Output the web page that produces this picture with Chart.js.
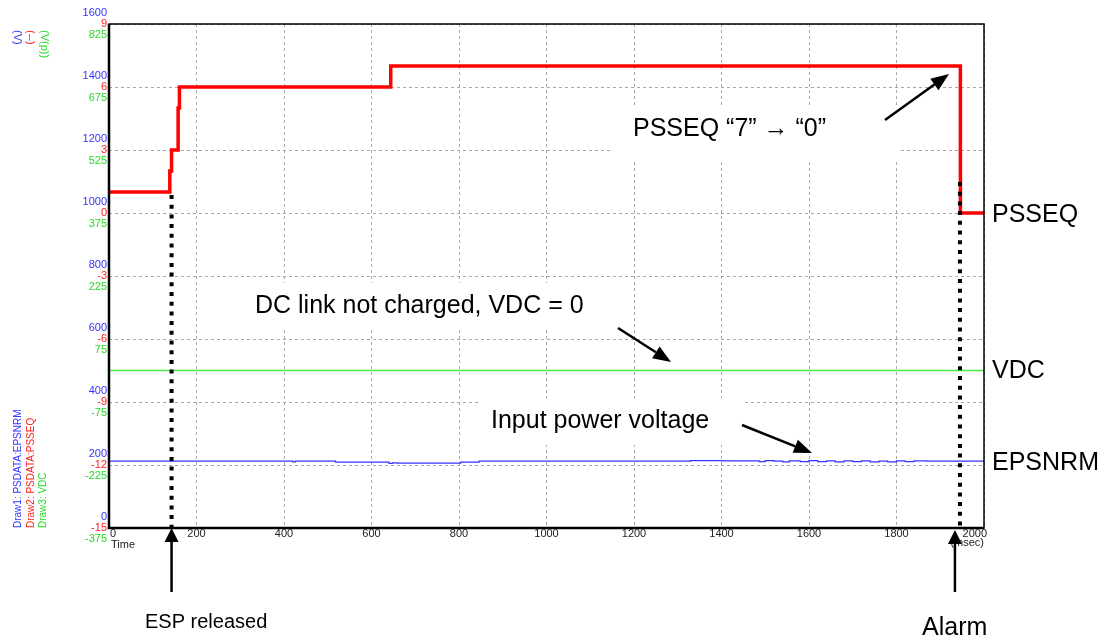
<!DOCTYPE html>
<html>
<head>
<meta charset="utf-8">
<script src="https://cdn.jsdelivr.net/npm/chart.js@4/dist/chart.umd.min.js"></script>
<style>
  html, body { margin: 0; padding: 0; background: #fff; }
  #wrap { width: 1107px; height: 639px; }
</style>
</head>
<body>
<div id="wrap"><canvas id="trace" width="1107" height="639"></canvas></div>
<script>
// Time axis (msec)
const timeTicks = [0, 200, 400, 600, 800, 1000, 1200, 1400, 1600, 1800, 2000];

// Draw1: PSDATA:EPSNRM (V) - input power voltage
const epsTime  = [0, 420, 426, 518, 640, 648, 659, 804, 846, 1329, 1401, 1486, 1500, 1520, 1540, 1555, 1580, 1600, 1620, 1640, 1660, 1680, 1700, 1720, 1740, 1760, 1780, 1800, 1820, 1840, 1867, 2000];
const epsValue = [212, 210, 212, 209, 205, 207, 206, 209, 212, 214, 213, 211, 214, 212, 210, 213, 211, 214, 211, 213, 210, 213, 211, 213, 210, 212, 210, 213, 211, 213, 212, 212];

// Draw2: PSDATA:PSSEQ (--) - power supply sequence
const pssTime  = [0, 139, 143, 158, 161, 644, 1946, 2000];
const pssValue = [1, 2, 3, 5, 6, 7, 0, 0];

// Draw3: VDC (V(p)) - DC link voltage
const vdcTime  = [0, 2000];
const vdcValue = [0, 0];

// Events on the time axis
const espReleased = 143;
const alarmTime = 1945;

const BLUE = '#3333ff', RED = '#ff2020', GREEN = '#22dd22';
const FONT = '"Liberation Sans", Arial, sans-serif';

function points(xs, ys) {
    return xs.map((x, i) => ({ x: x, y: ys[i] }));
}

function arrow(ctx, x1, y1, x2, y2, head, half) {
    const a = Math.atan2(y2 - y1, x2 - x1);
    const bx = x2 - head * Math.cos(a), by = y2 - head * Math.sin(a);
    ctx.beginPath();
    ctx.moveTo(x1, y1);
    ctx.lineTo(bx, by);
    ctx.stroke();
    ctx.beginPath();
    ctx.moveTo(x2, y2);
    ctx.lineTo(bx + half * Math.sin(a), by - half * Math.cos(a));
    ctx.lineTo(bx - half * Math.sin(a), by + half * Math.cos(a));
    ctx.closePath();
    ctx.fill();
}

// White label boxes sit over the grid but under the traces
const labelBoxes = {
    id: 'labelBoxes',
    beforeDatasetsDraw(chart) {
        const ctx = chart.ctx;
        ctx.save();
        ctx.fillStyle = '#fff';
        ctx.fillRect(612, 105, 286, 55);
        ctx.fillRect(245, 283, 355, 47);
        ctx.fillRect(478, 398, 264, 47);
        ctx.restore();
    }
};

const decorations = {
    id: 'decorations',
    afterDraw(chart) {
        const ctx = chart.ctx;
        const area = chart.chartArea;
        const sx = chart.scales.x;
        const yr = chart.scales.yRed, yb = chart.scales.yBlue, yg = chart.scales.yGreen;
        ctx.save();

        // plot frame
        ctx.strokeStyle = '#000';
        ctx.lineWidth = 1.5;
        ctx.strokeRect(area.left, area.top, area.right - area.left, area.bottom - area.top);
        ctx.lineWidth = 2.5;
        ctx.beginPath();
        ctx.moveTo(area.left, area.top);
        ctx.lineTo(area.left, area.bottom);
        ctx.lineTo(area.right, area.bottom);
        ctx.stroke();

        // stacked left tick labels: blue / red / green
        ctx.font = '11px ' + FONT;
        ctx.textAlign = 'right';
        ctx.textBaseline = 'middle';
        yr.ticks.forEach(t => {
            ctx.fillStyle = RED;
            ctx.fillText(String(t.value), area.left - 2, yr.getPixelForValue(t.value));
        });
        yb.ticks.forEach(t => {
            ctx.fillStyle = BLUE;
            ctx.fillText(String(t.value), area.left - 2, yb.getPixelForValue(t.value) - 11);
        });
        yg.ticks.forEach(t => {
            ctx.fillStyle = GREEN;
            ctx.fillText(String(t.value), area.left - 2, yg.getPixelForValue(t.value) + 11);
        });

        // time tick labels
        ctx.fillStyle = '#222';
        sx.ticks.forEach((t, i) => {
            const px = sx.getPixelForValue(t.value);
            if (i === 0) { ctx.textAlign = 'left'; ctx.fillText(String(t.value), px + 1, area.bottom + 6); }
            else if (i === sx.ticks.length - 1) { ctx.textAlign = 'right'; ctx.fillText(String(t.value), px + 3, area.bottom + 6); }
            else { ctx.textAlign = 'center'; ctx.fillText(String(t.value), px, area.bottom + 6); }
        });
        ctx.textAlign = 'left';
        ctx.fillText('Time', area.left + 2, area.bottom + 17);
        ctx.textAlign = 'right';
        ctx.fillText('(msec)', area.right, area.bottom + 15);

        // unit captions, top left
        const units = [['(V)', BLUE, 17], ['(--)', RED, 30], ['(V(p))', GREEN, 44]];
        units.forEach(u => {
            ctx.save();
            ctx.translate(u[2], 30);
            ctx.rotate(Math.PI / 2);
            ctx.fillStyle = u[1];
            ctx.textAlign = 'left';
            ctx.textBaseline = 'middle';
            ctx.fillText(u[0], 0, 0);
            ctx.restore();
        });

        // trace legend, bottom left
        ctx.font = '10px ' + FONT;
        const legend = [['Draw1: PSDATA:EPSNRM', BLUE, 18], ['Draw2: PSDATA:PSSEQ', RED, 31], ['Draw3: VDC', GREEN, 43]];
        legend.forEach(l => {
            ctx.save();
            ctx.translate(l[2], area.bottom);
            ctx.rotate(-Math.PI / 2);
            ctx.fillStyle = l[1];
            ctx.textAlign = 'left';
            ctx.textBaseline = 'middle';
            ctx.fillText(l[0], 0, 0);
            ctx.restore();
        });

        // dotted event markers
        ctx.strokeStyle = '#000';
        ctx.lineWidth = 4;
        ctx.setLineDash([4, 5.7]);
        const xEsp = sx.getPixelForValue(espReleased);
        const xAlarm = sx.getPixelForValue(alarmTime);
        ctx.beginPath();
        ctx.moveTo(xEsp, 195);
        ctx.lineTo(xEsp, area.bottom);
        ctx.moveTo(xAlarm, 182);
        ctx.lineTo(xAlarm, area.bottom);
        ctx.stroke();
        ctx.setLineDash([]);

        // callout text
        ctx.fillStyle = '#000';
        ctx.font = '25px ' + FONT;
        ctx.textAlign = 'left';
        ctx.textBaseline = 'alphabetic';
        ctx.fillText('PSSEQ “7” → “0”', 633, 136);
        ctx.fillText('DC link not charged, VDC = 0', 255, 313);
        ctx.fillText('Input power voltage', 491, 428);
        ctx.fillText('PSSEQ', 992, 222);
        ctx.fillText('VDC', 992, 378);
        ctx.fillText('EPSNRM', 992, 470);
        ctx.fillText('Alarm', 922, 635);
        ctx.font = '20px ' + FONT;
        ctx.fillText('ESP released', 145, 628);

        // callout arrows
        ctx.strokeStyle = '#000';
        ctx.fillStyle = '#000';
        ctx.lineWidth = 2.5;
        arrow(ctx, 885, 120, 949, 74, 18, 7);
        arrow(ctx, 618, 328, 671, 362, 18, 7);
        arrow(ctx, 742, 425, 812, 453, 18, 7);
        arrow(ctx, xEsp, 592, xEsp, area.bottom, 14, 7);
        arrow(ctx, xAlarm - 5, 592, xAlarm - 5, area.bottom + 2, 14, 7);

        ctx.restore();
    }
};

new Chart(document.getElementById('trace'), {
    type: 'line',
    data: {
        datasets: [
            {
                label: 'EPSNRM',
                data: points(epsTime, epsValue),
                yAxisID: 'yBlue',
                borderColor: BLUE,
                borderWidth: 1.2,
                stepped: true,
                pointRadius: 0
            },
            {
                label: 'VDC',
                data: points(vdcTime, vdcValue),
                yAxisID: 'yGreen',
                borderColor: '#44ee44',
                borderWidth: 1.5,
                pointRadius: 0
            },
            {
                label: 'PSSEQ',
                data: points(pssTime, pssValue),
                yAxisID: 'yRed',
                borderColor: '#ff0000',
                borderWidth: 3.5,
                borderJoinStyle: 'miter',
                stepped: true,
                pointRadius: 0
            }
        ]
    },
    options: {
        responsive: false,
        animation: false,
        events: [],
        layout: { padding: { top: 24, right: 123, left: 0, bottom: 0 } },
        plugins: { legend: { display: false }, tooltip: { enabled: false } },
        scales: {
            x: {
                type: 'linear',
                min: 0,
                max: 2000,
                afterBuildTicks: s => { s.ticks = timeTicks.map(v => ({ value: v })); },
                ticks: { display: false },
                grid: { color: '#a8a8a8', lineWidth: 1, drawTicks: false },
                border: { display: false, dash: [3, 3] },
                afterFit: s => { s.height = 111; }
            },
            yRed: {
                position: 'left',
                min: -15,
                max: 9,
                ticks: { display: false, stepSize: 3 },
                grid: { color: '#a8a8a8', lineWidth: 1, drawTicks: false },
                border: { display: false, dash: [3, 3] },
                afterFit: s => { s.width = 109; }
            },
            yBlue: { display: false, min: 0, max: 1600, ticks: { stepSize: 200 } },
            yGreen: { display: false, min: -375, max: 825, ticks: { stepSize: 150 } }
        }
    },
    plugins: [labelBoxes, decorations]
});
</script>
</body>
</html>
